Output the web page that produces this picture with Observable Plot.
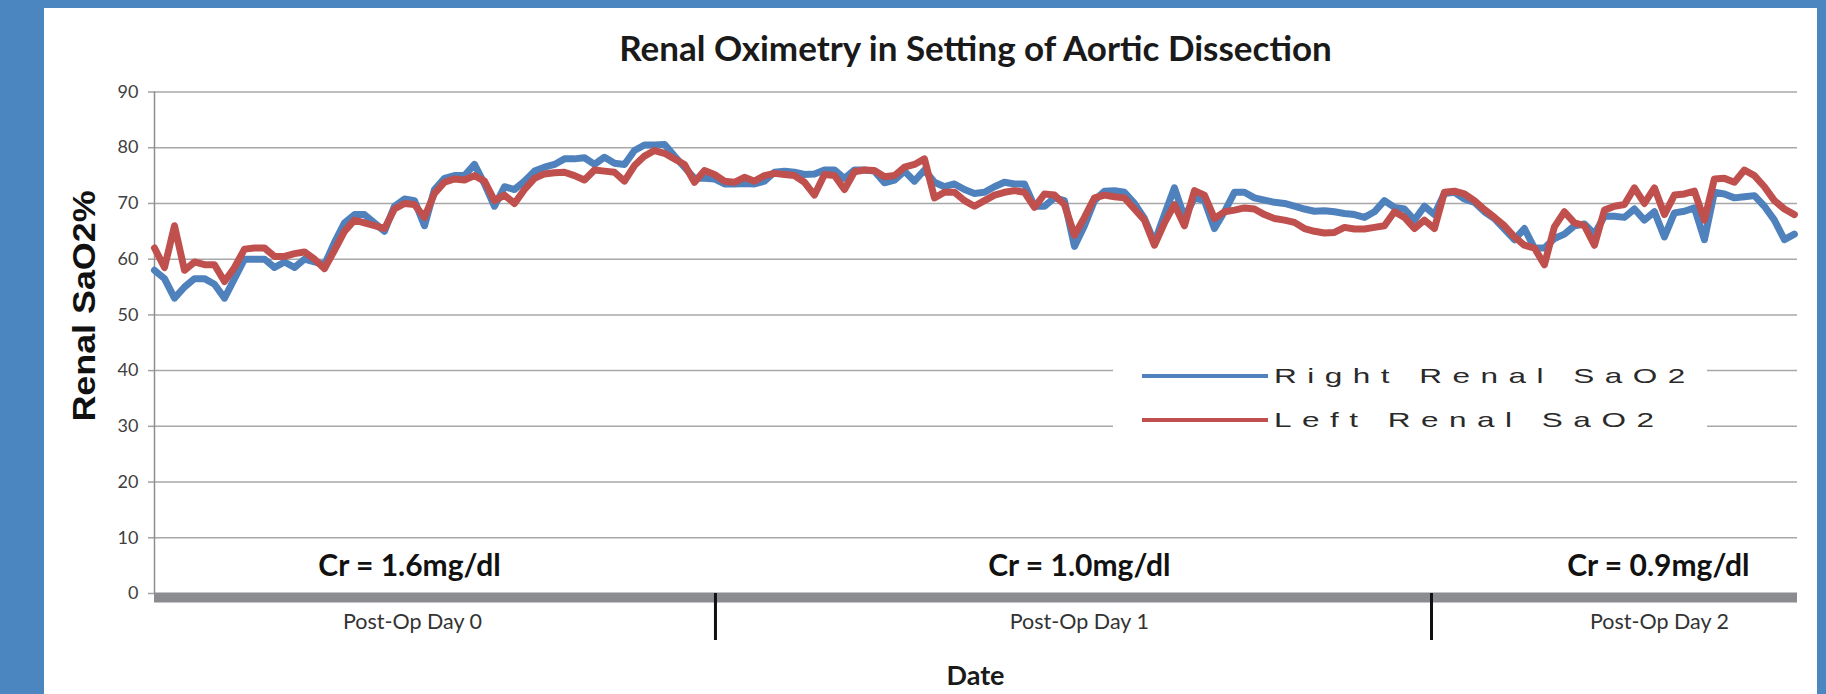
<!DOCTYPE html>
<html>
<head>
<meta charset="utf-8">
<script src="https://cdn.jsdelivr.net/npm/d3@7"></script>
<script src="https://cdn.jsdelivr.net/npm/@observablehq/plot@0.6"></script>
<style>
  html, body { margin: 0; padding: 0; }
  body { width: 1826px; height: 694px; background: #4b86c0; position: relative; overflow: hidden; font-family: Lato, "Open Sans", sans-serif; }
  #panel { position: absolute; left: 44px; top: 8px; width: 1773px; height: 686px; background: #fff; }
  #panel svg { position: absolute; left: 0; top: 0; }
  .abs { position: absolute; white-space: nowrap; }
  #title { left: 110px; width: 1643px; top: 20px; text-align: center; font: bold 35px/38px Lato, sans-serif; color: #1a1a1a; }
  #xtitle { left: 110px; width: 1643px; top: 652px; text-align: center; font: bold 27px/30px Lato, sans-serif; color: #1a1a1a; }
  #ytitle { left: 40px; top: 298px; transform: translate(-50%, -50%) rotate(-90deg) scaleX(1.12); font: bold 32px/36px "Liberation Sans", Arial, sans-serif; color: #111; }
  #legend { left: 1069px; top: 344px; width: 594px; height: 92px; background: #fff; }
  .swatch { position: absolute; left: 29px; width: 126px; height: 4px; }
  .ltext { position: absolute; left: 161px; font: 21px/22px "Liberation Sans", Arial, sans-serif; letter-spacing: 7px; color: #2a2a2a; transform: scaleX(1.5); transform-origin: left center; }
</style>
</head>
<body>
<div id="panel"></div>
<script>
// ---- data ----
const sampleStepHours = 1 / 3;                 // one reading every 20 minutes
const rightRenal = [
  58, 56.5, 53, 55, 56.5, 56.5, 55.5, 53, 56.5, 60,
  60, 60, 58.5, 59.5, 58.5, 60, 59.5, 59, 63, 66.5,
  68, 68, 66.5, 65, 69.5, 70.8, 70.5, 66, 72.5, 74.5,
  75, 75, 77, 73.5, 69.5, 73, 72.5, 74, 75.8, 76.5,
  77, 78, 78, 78.2, 77, 78.3, 77.2, 77, 79.5, 80.5,
  80.5, 80.6, 78.5, 76.5, 74.5, 74.5, 74.4, 73.5, 73.5, 73.6,
  73.5, 74, 75.6, 75.8, 75.6, 75.2, 75.3, 76, 76, 74.5,
  76, 76, 75.8, 73.7, 74.2, 75.8, 74, 76, 73.8, 73,
  73.5, 72.5, 71.8, 72, 73, 73.8, 73.5, 73.5, 69.5, 69.5,
  71, 70.5, 62.3, 66, 70.5, 72.2, 72.3, 72, 70, 67.3,
  63, 68, 72.8, 67.5, 71, 70.5, 65.5, 68.5, 72, 72,
  71, 70.6, 70.2, 70, 69.5, 69, 68.6, 68.7, 68.5, 68.2,
  68, 67.5, 68.5, 70.5, 69.3, 69, 67, 69.5, 68, 71.8,
  72, 70.8, 70.2, 68.5, 67.3, 65.4, 63.5, 65.5, 62, 62,
  63.7, 64.5, 66, 66.3, 64.5, 67.7, 67.7, 67.5, 69, 67,
  68.5, 64, 68.3, 68.6, 69.2, 63.5, 72, 71.7, 71, 71.2,
  71.4, 69.5, 67, 63.5, 64.5
];
const leftRenal = [
  62, 58.5, 66, 58, 59.5, 59, 59, 56, 58.5, 61.8,
  62, 62, 60.5, 60.5, 61, 61.3, 60, 58.3, 61.6, 65,
  67, 66.5, 66, 65.5, 69, 70, 69.8, 67.5, 71.8, 73.8,
  74.4, 74.2, 75, 74, 70.5, 71.5, 70, 72.5, 74.5, 75.3,
  75.5, 75.6, 75, 74.2, 76, 75.8, 75.6, 74, 76.8, 78.5,
  79.5, 79, 78, 77, 73.8, 75.9, 75.2, 74, 73.8, 74.7,
  74, 75, 75.4, 75.2, 75, 73.8, 71.5, 75.2, 75, 72.5,
  75.7, 76, 75.9, 74.8, 75, 76.5, 77, 78, 71, 72,
  72, 70.5, 69.5, 70.5, 71.5, 72, 72.3, 72, 69.3, 71.7,
  71.5, 69.8, 64.3, 67.5, 71, 71.5, 71.2, 71, 69, 67,
  62.5, 66.5, 69.8, 66, 72.3, 71.5, 67.3, 68.5, 68.8, 69.2,
  69, 68, 67.3, 67, 66.6, 65.5, 65, 64.7, 64.8, 65.7,
  65.4, 65.4, 65.7, 66, 68.5, 67.5, 65.5, 67, 65.5, 72,
  72.2, 71.7, 70.5, 68.9, 67.5, 66, 64, 62.5, 62, 59,
  65.8, 68.5, 66.5, 66, 62.5, 68.8, 69.5, 69.8, 72.8, 70,
  72.8, 68, 71.5, 71.7, 72.2, 67, 74.4, 74.5, 73.8, 76,
  75, 73, 70.5, 69, 68
];
const yTicks = [0, 10, 20, 30, 40, 50, 60, 70, 80, 90];
const dayLabels = ["Post-Op Day 0", "Post-Op Day 1", "Post-Op Day 2"];
const dayLabelHours = [8.6, 30.83, 50.17];
const dayBoundaryHours = [18.7, 42.57];
const crLabels = ["Cr = 1.6mg/dl", "Cr = 1.0mg/dl", "Cr = 0.9mg/dl"];
const crHours = [8.5, 30.83, 50.13];
const seriesNames = ["Right Renal SaO2", "Left Renal SaO2"];
const seriesColors = ["#4f81bd", "#c0504d"];
const chartTitle = "Renal Oximetry in Setting of Aortic Dissection";
const xTitle = "Date";
const yTitle = "Renal SaO2%";

// ---- build ----
const rows = rightRenal.map((v, i) => ({hour: i * sampleStepHours, right: v, left: leftRenal[i]}));

const chart = Plot.plot({
  width: 1773,
  height: 686,
  marginLeft: 110,
  marginRight: 20,
  marginTop: 83.5,
  marginBottom: 101,
  x: {domain: [0, 54.77], label: null},
  y: {domain: [0, 90], label: null},
  style: {fontFamily: "Lato, sans-serif", background: "transparent", overflow: "visible"},
  marks: [
    Plot.ruleY(yTicks.filter(d => d > 0), {stroke: "#a8a8a8", strokeWidth: 1.5}),
    Plot.axisY(yTicks, {tickSize: 6, tickPadding: 10, fontSize: 18, stroke: "#a0a0a0", strokeWidth: 1.5, fill: "#404040", label: null}),
    Plot.ruleX([0], {stroke: "#8e8e8e", strokeWidth: 1.5}),
    Plot.lineY(rows, {x: "hour", y: "right", stroke: seriesColors[0], strokeWidth: 7, strokeLinejoin: "round"}),
    Plot.lineY(rows, {x: "hour", y: "left", stroke: seriesColors[1], strokeWidth: 7, strokeLinejoin: "round"}),
    Plot.ruleY([0], {stroke: "#8b8c90", strokeWidth: 10, dy: 4}),
    Plot.axisX(dayBoundaryHours, {tickSize: 47, tickFormat: () => "", stroke: "#111", strokeWidth: 3, label: null}),
    Plot.text(dayLabels, {x: dayLabelHours, text: dayLabels, frameAnchor: "bottom", dy: 35, fontSize: 21.5, fill: "#333"}),
    Plot.text(crLabels, {x: crHours, text: crLabels, frameAnchor: "bottom", dy: -18, fontSize: 30, fontWeight: "bold", fill: "#111"})
  ]
});
const panel = document.getElementById("panel");
panel.appendChild(chart);

function addDiv(id, text) {
  const d = document.createElement("div");
  d.id = id; d.className = "abs"; d.textContent = text;
  panel.appendChild(d);
  return d;
}
addDiv("title", chartTitle);
addDiv("xtitle", xTitle);
addDiv("ytitle", yTitle);

const legend = document.createElement("div");
legend.id = "legend"; legend.className = "abs";
seriesNames.forEach((name, i) => {
  const sw = document.createElement("div");
  sw.className = "swatch";
  sw.style.top = (22 + i * 44) + "px";
  sw.style.background = seriesColors[i];
  legend.appendChild(sw);
  const t = document.createElement("div");
  t.className = "ltext";
  t.style.top = (13 + i * 44) + "px";
  t.textContent = name;
  legend.appendChild(t);
});
panel.appendChild(legend);
</script>
</body>
</html>
